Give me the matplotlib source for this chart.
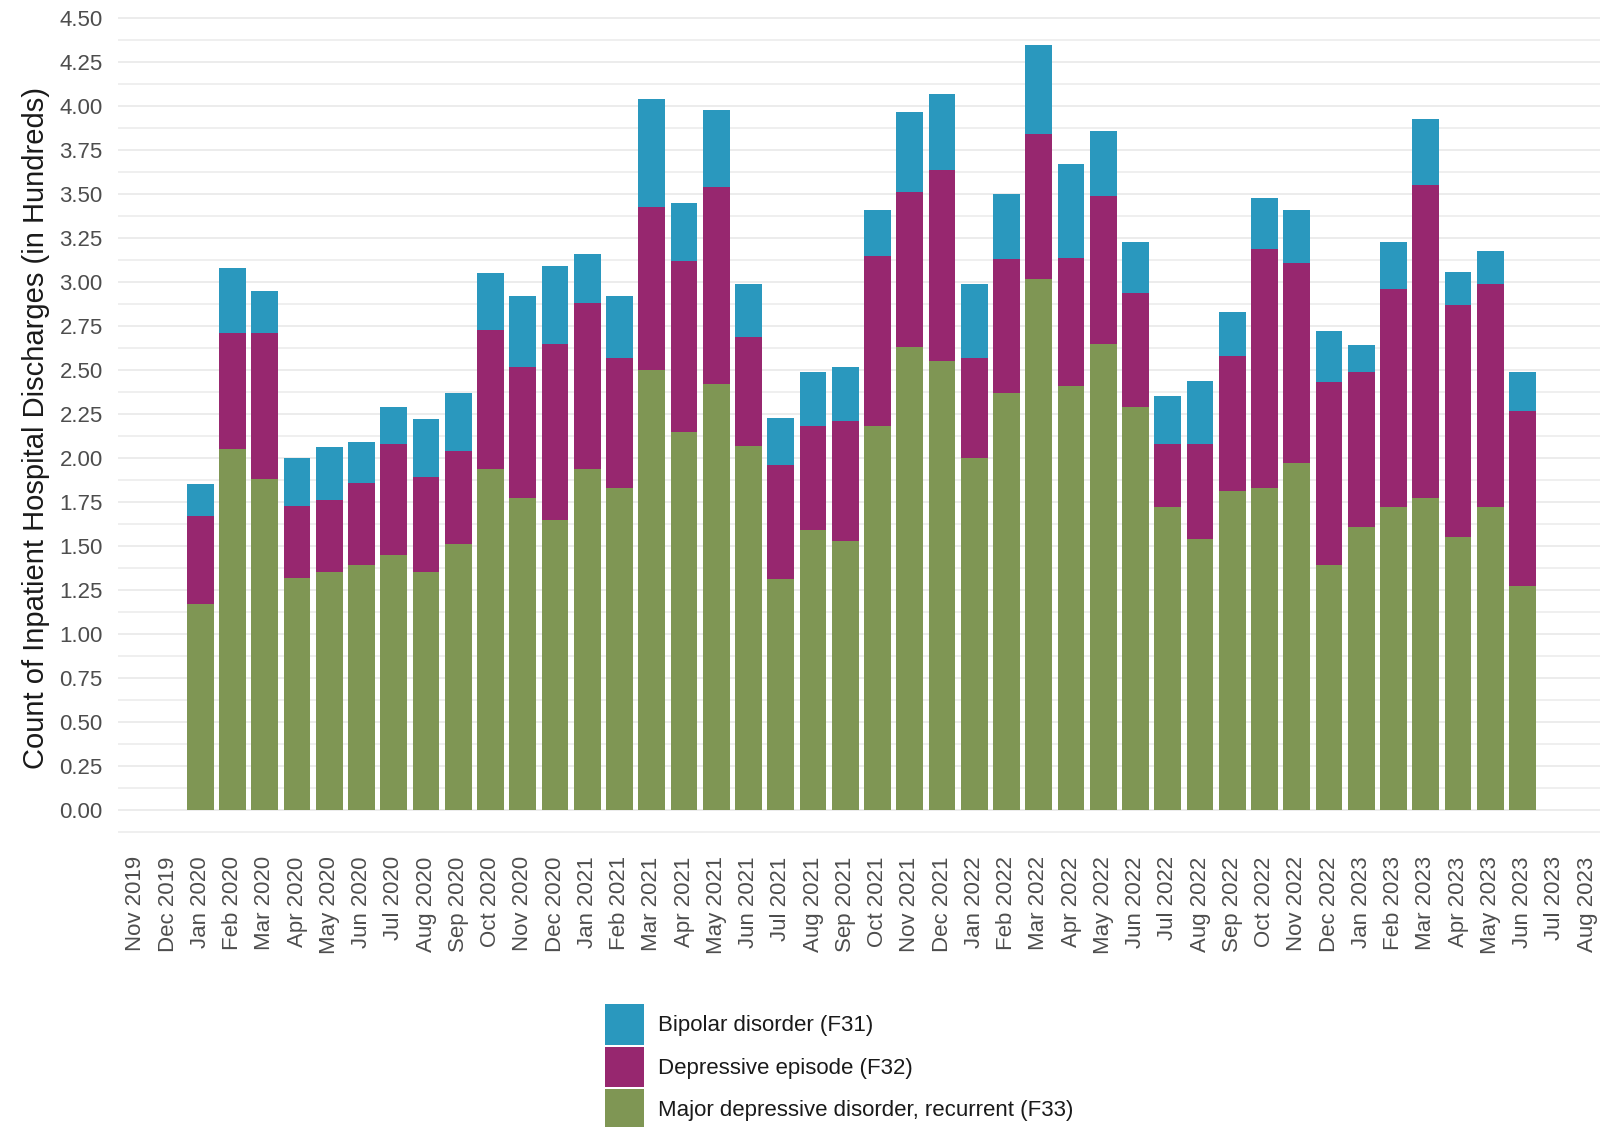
import matplotlib
matplotlib.use("Agg")
import matplotlib.pyplot as plt
from matplotlib.patches import Patch
import numpy as np

plt.rcParams['font.family'] = ['Liberation Sans', 'DejaVu Sans']

tick_labels = [
    "Nov 2019", "Dec 2019",
    "Jan 2020", "Feb 2020", "Mar 2020", "Apr 2020", "May 2020", "Jun 2020",
    "Jul 2020", "Aug 2020", "Sep 2020", "Oct 2020", "Nov 2020", "Dec 2020",
    "Jan 2021", "Feb 2021", "Mar 2021", "Apr 2021", "May 2021", "Jun 2021",
    "Jul 2021", "Aug 2021", "Sep 2021", "Oct 2021", "Nov 2021", "Dec 2021",
    "Jan 2022", "Feb 2022", "Mar 2022", "Apr 2022", "May 2022", "Jun 2022",
    "Jul 2022", "Aug 2022", "Sep 2022", "Oct 2022", "Nov 2022", "Dec 2022",
    "Jan 2023", "Feb 2023", "Mar 2023", "Apr 2023", "May 2023", "Jun 2023",
    "Jul 2023", "Aug 2023",
]

months = tick_labels[2:44]  # Jan 2020 .. Jun 2023

# stacked values (in hundreds)
f33_major = [1.17, 2.05, 1.88, 1.32, 1.35, 1.39, 1.45, 1.35, 1.51, 1.94, 1.77, 1.65,
             1.94, 1.83, 2.50, 2.15, 2.42, 2.07, 1.31, 1.59, 1.53, 2.18, 2.63, 2.55,
             2.00, 2.37, 3.02, 2.41, 2.65, 2.29, 1.72, 1.54, 1.81, 1.83, 1.97, 1.39,
             1.61, 1.72, 1.77, 1.55, 1.72, 1.27]
f32_top = [1.67, 2.71, 2.71, 1.73, 1.76, 1.86, 2.08, 1.89, 2.04, 2.73, 2.52, 2.65,
           2.88, 2.57, 3.43, 3.12, 3.54, 2.69, 1.96, 2.18, 2.21, 3.15, 3.51, 3.64,
           2.57, 3.13, 3.84, 3.14, 3.49, 2.94, 2.08, 2.08, 2.58, 3.19, 3.11, 2.43,
           2.49, 2.96, 3.55, 2.87, 2.99, 2.27]
total_top = [1.85, 3.08, 2.95, 2.00, 2.06, 2.09, 2.29, 2.22, 2.37, 3.05, 2.92, 3.09,
             3.16, 2.92, 4.04, 3.45, 3.98, 2.99, 2.23, 2.49, 2.52, 3.41, 3.97, 4.07,
             2.99, 3.50, 4.35, 3.67, 3.86, 3.23, 2.35, 2.44, 2.83, 3.48, 3.41, 2.72,
             2.64, 3.23, 3.93, 3.06, 3.18, 2.49]

f33 = np.array(f33_major)
f32 = np.array(f32_top) - f33
f31 = np.array(total_top) - np.array(f32_top)

series_names = ["Bipolar disorder (F31)", "Depressive episode (F32)",
                "Major depressive disorder, recurrent (F33)"]
colors = {"F31": "#2A98BE", "F32": "#97276F", "F33": "#7F9654"}

fig = plt.figure(figsize=(16.08, 11.27), dpi=100)
ax = fig.add_axes([0.0734, 0.2476, 0.9216, 0.7439])

x = np.array([tick_labels.index(m) for m in months])
w = 0.83
ax.bar(x, f33, width=w, color=colors["F33"], zorder=3)
ax.bar(x, f32, width=w, bottom=f33, color=colors["F32"], zorder=3)
ax.bar(x, f31, width=w, bottom=f33 + f32, color=colors["F31"], zorder=3)

ax.set_xlim(-0.55, 45.4)
ax.set_ylim(-0.217, 4.55)

ax.set_xticks(np.arange(len(tick_labels)))
ax.set_xticklabels(tick_labels, rotation=90, fontsize=16, color="#4D4D4D")
yt = np.arange(0, 4.51, 0.25)
ax.set_yticks(yt)
ax.set_yticklabels([f"{v:.2f}" for v in yt], fontsize=16, color="#4D4D4D")
ax.set_yticks(np.arange(-0.125, 4.5, 0.25), minor=True)
ax.tick_params(axis='both', which='both', length=0)
ax.tick_params(axis='x', pad=6)
ax.tick_params(axis='y', pad=11)

ax.grid(axis='y', which='major', color="#EBEBEB", linewidth=1.3, zorder=0)
ax.grid(axis='y', which='minor', color="#EBEBEB", linewidth=1.1, zorder=0)
ax.grid(axis='x', visible=False)
for s in ax.spines.values():
    s.set_visible(False)

fig.text(36 / 1608, 0.620, "Count of Inpatient Hospital Discharges (in Hundreds)",
         rotation=90, ha='center', va='center', fontsize=21, color="#1A1A1A")

handles = [Patch(facecolor=colors["F31"]), Patch(facecolor=colors["F32"]),
           Patch(facecolor=colors["F33"])]
fig.legend(handles, series_names, loc='upper left',
           bbox_to_anchor=(605 / 1608, 1 - 1004 / 1127),
           frameon=False, fontsize=16, handlelength=1.75, handleheight=2.45,
           handletextpad=0.65, labelspacing=0.08, borderpad=0, borderaxespad=0,
           labelcolor="#1A1A1A")

fig.savefig("out.png", dpi=100, facecolor="white")
